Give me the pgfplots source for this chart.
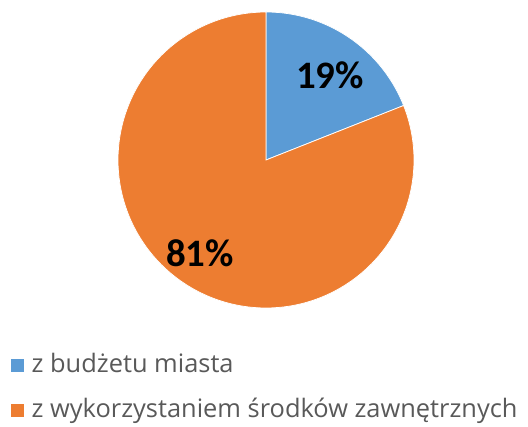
\documentclass[border=0pt]{standalone}
\usepackage{fontspec}
\setmainfont{Carlito}
\newfontfamily\legendfont{Open Sans}
\usepackage{pgfplots}
\pgfplotsset{compat=1.18}
\definecolor{pieblue}{RGB}{91,155,213}
\definecolor{pieorange}{RGB}{237,125,49}
\definecolor{legendgray}{RGB}{89,89,89}

\begin{document}
\begin{tikzpicture}
\begin{axis}[
  scale only axis, width=528bp, height=427bp,
  xmin=0, xmax=528, ymin=0, ymax=427,
  hide axis, clip=false,
  legend cell align=left,
  legend style={at={(axis cs:8,76)}, anchor=north west, draw=none, fill=none,
    font=\legendfont\fontsize{25.5}{30}\selectfont\color{legendgray},
    nodes={inner sep=0pt, text height=19bp, text depth=6bp},
    column sep=8bp, row sep=20bp},
  legend image code/.code={\fill[#1, draw=none] (0bp,-6.5bp) rectangle (12.5bp,6.5bp);}
]
\path (axis cs:0,0) rectangle (axis cs:528,427);
% shares in percent: 19 and 81, pie starts at 12 o'clock, clockwise
\addplot[fill=pieblue, draw=white, line width=0.75bp,
  domain={90-3.6*19}:90, samples=80, variable=\t]
  ({266+148*cos(\t)}, {267+148*sin(\t)}) -- (axis cs:266,267) -- cycle;
\addlegendentry{z budżetu miasta}
\addplot[fill=pieorange, draw=white, line width=0.75bp,
  domain={90-3.6*(19+81)}:{90-3.6*19}, samples=200, variable=\t]
  ({266+148*cos(\t)}, {267+148*sin(\t)}) -- (axis cs:266,267) -- cycle;
\addlegendentry{z wykorzystaniem środków zawnętrznych}

\node[font=\fontsize{39}{44}\selectfont\bfseries] at (axis cs:330,352) {19\%};
\node[font=\fontsize{39}{44}\selectfont\bfseries] at (axis cs:200,174) {81\%};
\end{axis}
\end{tikzpicture}
\end{document}
